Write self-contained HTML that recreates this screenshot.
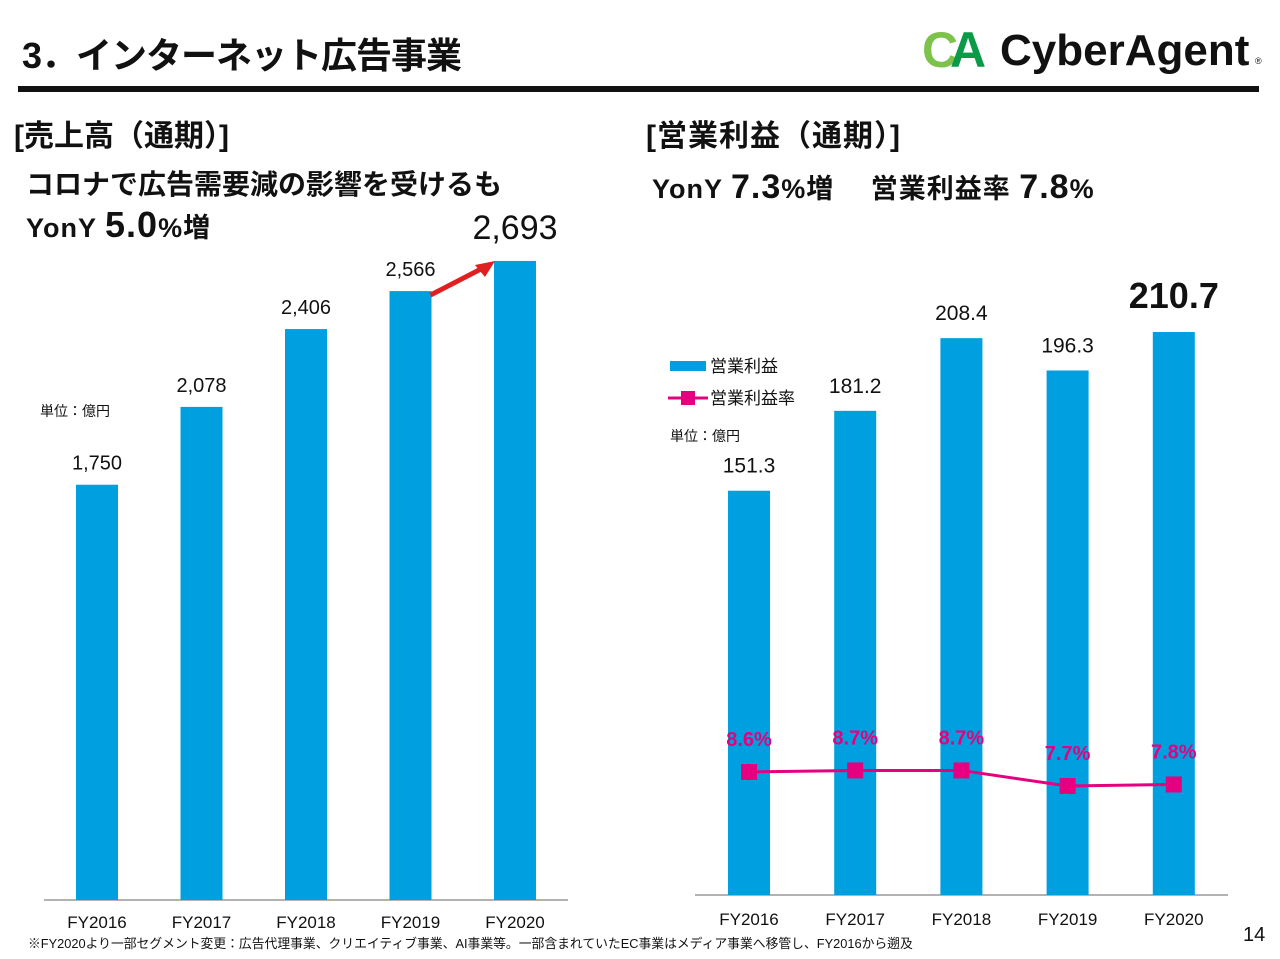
<!DOCTYPE html>
<html><head><meta charset="utf-8"><style>
body{margin:0;width:1280px;height:959px;background:#fff;overflow:hidden;font-family:"Liberation Sans","Noto Sans CJK JP",sans-serif;}
</style></head><body>
<svg width="1280" height="959" xmlns="http://www.w3.org/2000/svg" style="position:absolute;left:0;top:0" font-family="Liberation Sans, Noto Sans CJK JP, sans-serif">
<text x="22" y="68" font-size="36" font-weight="bold" fill="#111" letter-spacing="-1">3．インターネット広告事業</text>
<g>
<text x="922" y="67" font-size="50" font-weight="bold" fill="#7dc24a" letter-spacing="-4">C</text>
<text x="950" y="67" font-size="50" font-weight="bold" fill="#0a9a48">A</text>
<text x="1000" y="65" font-size="44" font-weight="bold" fill="#111">CyberAgent</text>
<text x="1255" y="64" font-size="9" fill="#111">®</text>
</g>
<rect x="18" y="86" width="1241" height="6" fill="#111"/>
<text x="14" y="146" font-size="30" font-weight="bold" fill="#111">[売上高（通期）]</text>
<text x="26" y="194" font-size="28" font-weight="bold" fill="#111">コロナで広告需要減の影響を受けるも</text>
<text x="26" y="237" font-size="27" font-weight="bold" fill="#111" letter-spacing="1">YonY <tspan font-size="36">5.0</tspan>%増</text>
<text x="646" y="146" font-size="30" font-weight="bold" fill="#111" letter-spacing="1">[営業利益（通期）]</text>
<text x="652" y="198" font-size="27" font-weight="bold" fill="#111" letter-spacing="1">YonY <tspan font-size="34">7.3</tspan>%増　 営業利益率 <tspan font-size="34">7.8</tspan>%</text>
<text x="40" y="416" font-size="14" fill="#111">単位：億円</text>
<text x="670" y="441" font-size="14" fill="#111">単位：億円</text>
<g>
<rect x="670" y="361" width="36" height="10" fill="#00a0e0"/>
<text x="710" y="372" font-size="17" fill="#111">営業利益</text>
<line x1="668" y1="398" x2="708" y2="398" stroke="#e5007f" stroke-width="3"/>
<rect x="681" y="391" width="14" height="14" fill="#e5007f"/>
<text x="710" y="404" font-size="17" fill="#111">営業利益率</text>
</g>
<g id="left"></g><g id="right"></g>
<text x="28" y="948" font-size="12.8" fill="#111">※FY2020より一部セグメント変更：広告代理事業、クリエイティブ事業、AI事業等。一部含まれていたEC事業はメディア事業へ移管し、FY2016から遡及</text>
<text x="1243" y="941" font-size="20" fill="#111">14</text>
</svg>
<script>
const categories=["FY2016","FY2017","FY2018","FY2019","FY2020"];
const salesValues=[1750,2078,2406,2566,2693];
const salesLabels=["1,750","2,078","2,406","2,566","2,693"];
const profitValues=[151.3,181.2,208.4,196.3,210.7];
const profitLabels=["151.3","181.2","208.4","196.3","210.7"];
const marginValues=[8.6,8.7,8.7,7.7,7.8];
const marginLabels=["8.6%","8.7%","8.7%","7.7%","7.8%"];
const NS="http://www.w3.org/2000/svg";
function mk(p,t,a){const e=document.createElementNS(NS,t);for(const k in a)e.setAttribute(k,a[k]);p.appendChild(e);return e;}
const L=document.getElementById('left');
const lx=i=>97+i*104.5, ly=v=>900-v*0.2373;
let ax=mk(L,'line',{x1:44,y1:900,x2:568,y2:900,stroke:'#999','stroke-width':1.5});

categories.forEach((c,i)=>{
 const b=mk(L,'rect',{x:lx(i)-21,y:ly(salesValues[i]),width:42,height:900-ly(salesValues[i]),fill:'#00a0e0'});
 
 const last=i===categories.length-1;
 const t=mk(L,'text',{x:lx(i),y:ly(salesValues[i])-(last?22:15),'text-anchor':'middle','font-size':last?34:20,fill:'#111'});t.textContent=salesLabels[i];
 
 const x=mk(L,'text',{x:lx(i),y:928,'text-anchor':'middle','font-size':17,fill:'#111'});x.textContent=c;
 
});
const arr=mk(L,'g',{});
mk(arr,'line',{x1:lx(3)+20,y1:ly(salesValues[3])+4,x2:lx(4)-30,y2:ly(salesValues[4])+6,stroke:'#e02020','stroke-width':5});
mk(arr,'polygon',{points:`${lx(4)-20},${ly(salesValues[4])} ${lx(4)-40},${ly(salesValues[4])+4} ${lx(4)-30},${ly(salesValues[4])+16}`,fill:'#e02020'});
const R=document.getElementById('right');
const rx=i=>749+i*106.2, ry=v=>895-v*2.672, my=v=>772-(v-8.6)*15.6;
ax=mk(R,'line',{x1:695,y1:895,x2:1228,y2:895,stroke:'#999','stroke-width':1.5});

categories.forEach((c,i)=>{
 const b=mk(R,'rect',{x:rx(i)-21,y:ry(profitValues[i]),width:42,height:895-ry(profitValues[i]),fill:'#00a0e0'});
 
 const last=i===categories.length-1;
 const t=mk(R,'text',{x:rx(i),y:ry(profitValues[i])-(last?24:18),'text-anchor':'middle','font-size':last?36:21,'font-weight':last?'bold':'normal',fill:'#111'});t.textContent=profitLabels[i];
 
 const x=mk(R,'text',{x:rx(i),y:925,'text-anchor':'middle','font-size':17,fill:'#111'});x.textContent=c;
 
});
const ln=mk(R,'polyline',{points:marginValues.map((v,i)=>rx(i)+','+my(v)).join(' '),fill:'none',stroke:'#e5007f','stroke-width':3});

marginValues.forEach((v,i)=>{
 const m=mk(R,'rect',{x:rx(i)-8,y:my(v)-8,width:16,height:16,fill:'#e5007f'});
 
 const t=mk(R,'text',{x:rx(i),y:my(v)-26,'text-anchor':'middle','font-size':20,'font-weight':'bold',fill:'#e5007f'});t.textContent=marginLabels[i];
 
});
</script>
</body></html>
